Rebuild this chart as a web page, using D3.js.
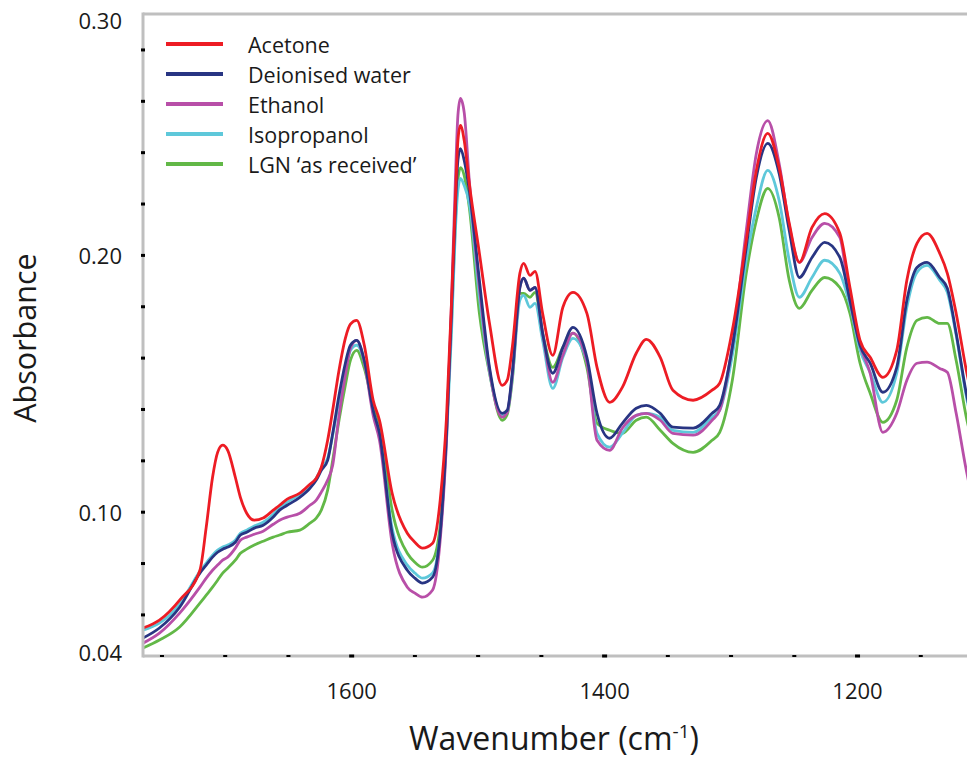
<!DOCTYPE html>
<html>
<head>
<meta charset="utf-8">
<script src="https://cdn.jsdelivr.net/npm/d3@7/dist/d3.min.js"></script>
<style>
  html, body { margin: 0; padding: 0; background: #fff; }
  svg { display: block; font-family: "Open Sans", "Noto Sans", sans-serif; }
</style>
</head>
<body>
<svg id="chart" width="967" height="761"></svg>
<script>
// FTIR absorbance spectra of LGN after solvent treatment
const wavenumbers = [
  1765, 1752, 1736, 1720, 1715, 1710, 1706, 1702, 1698, 1692,
  1688, 1683, 1677, 1670, 1662, 1657, 1651, 1641, 1633, 1628,
  1624, 1619, 1615, 1610, 1605, 1601, 1596, 1590, 1583, 1578,
  1568, 1556, 1550, 1544, 1536, 1530, 1525, 1521, 1518, 1516,
  1514, 1511, 1507, 1499, 1491, 1481, 1477, 1473, 1467, 1464,
  1459, 1455, 1449, 1441, 1433, 1425, 1414, 1406, 1396, 1386,
  1375, 1367, 1356, 1346, 1330, 1315, 1309, 1299, 1288, 1280,
  1271, 1262, 1254, 1246, 1236, 1226, 1214, 1206, 1198, 1190,
  1180, 1169, 1161, 1153, 1145, 1135, 1129, 1122, 1114, 1105
];

const acetone = [
  .0549, .0580, .0658, .0774, .0942, .1136, .1233, .1261, .1241, .1136,
  .1058, .0996, .0969, .0977, .1008, .1027, .1051, .1074, .1109, .1132,
  .1175, .1280, .1397, .1553, .1677, .1732, .1747, .1650, .1436, .1358,
  .1074, .0918, .0883, .0860, .0879, .1047, .1370, .1825, .2214, .2447,
  .2506, .2447, .2280, .2008, .1735, .1494, .1514, .1642, .1930, .1969,
  .1922, .1938, .1774, .1611, .1798, .1856, .1774, .1564, .1428, .1486,
  .1619, .1673, .1603, .1475, .1436, .1475, .1502, .1708, .2058, .2331,
  .2475, .2342, .2125, .1973, .2109, .2163, .2086, .1875, .1669, .1603,
  .1525, .1630, .1903, .2047, .2086, .2008, .1930, .1774, .1553, .1358
];

const deionisedWater = [
  .0510, .0549, .0630, .0763, .0794, .0825, .0844, .0856, .0864, .0883,
  .0911, .0922, .0938, .0949, .0981, .1008, .1027, .1058, .1093, .1125,
  .1163, .1202, .1307, .1455, .1580, .1650, .1669, .1591, .1397, .1307,
  .0918, .0774, .0743, .0724, .0747, .0918, .1307, .1786, .2175, .2370,
  .2416, .2370, .2253, .1903, .1564, .1385, .1397, .1541, .1875, .1911,
  .1864, .1875, .1697, .1541, .1642, .1720, .1603, .1385, .1288, .1346,
  .1405, .1416, .1385, .1331, .1327, .1385, .1416, .1642, .2031, .2304,
  .2436, .2319, .2097, .1914, .1992, .2051, .1992, .1825, .1650, .1580,
  .1467, .1564, .1825, .1953, .1973, .1914, .1872, .1697, .1463, .1280
];

const ethanol = [
  .0490, .0529, .0607, .0708, .0743, .0774, .0794, .0813, .0825, .0860,
  .0891, .0903, .0914, .0926, .0953, .0969, .0981, .0996, .1027, .1047,
  .1078, .1125, .1183, .1377, .1533, .1638, .1669, .1584, .1377, .1280,
  .0879, .0708, .0685, .0669, .0697, .0891, .1280, .1825, .2292, .2545,
  .2611, .2556, .2292, .1875, .1553, .1370, .1389, .1533, .1875, .1911,
  .1864, .1875, .1697, .1506, .1611, .1697, .1584, .1280, .1241, .1327,
  .1377, .1385, .1358, .1307, .1300, .1358, .1397, .1650, .2097, .2397,
  .2525, .2358, .2117, .1973, .2070, .2125, .2070, .1825, .1650, .1541,
  .1311, .1385, .1514, .1580, .1584, .1560, .1545, .1385, .1163, .0969
];

const isopropanol = [
  .0541, .0568, .0642, .0770, .0802, .0833, .0852, .0864, .0872, .0891,
  .0918, .0930, .0946, .0961, .0992, .1019, .1039, .1070, .1101, .1132,
  .1171, .1210, .1300, .1436, .1553, .1630, .1650, .1584, .1389, .1300,
  .0938, .0794, .0763, .0743, .0763, .0918, .1280, .1708, .2097, .2253,
  .2300, .2272, .2202, .1837, .1545, .1377, .1389, .1521, .1825, .1844,
  .1798, .1813, .1669, .1482, .1603, .1677, .1584, .1307, .1253, .1307,
  .1377, .1385, .1370, .1319, .1311, .1370, .1397, .1611, .1981, .2187,
  .2331, .2214, .1981, .1837, .1914, .1981, .1930, .1805, .1630, .1545,
  .1428, .1541, .1798, .1934, .1961, .1903, .1856, .1689, .1451, .1268
];

const lgnAsReceived = [
  .0471, .0502, .0553, .0646, .0677, .0708, .0735, .0763, .0782, .0813,
  .0840, .0856, .0872, .0887, .0903, .0911, .0922, .0930, .0957, .0977,
  .1008, .1086, .1202, .1358, .1494, .1591, .1630, .1560, .1416, .1346,
  .1008, .0840, .0805, .0786, .0813, .0949, .1319, .1747, .2136, .2292,
  .2342, .2311, .2187, .1774, .1541, .1358, .1381, .1514, .1852, .1852,
  .1837, .1856, .1697, .1564, .1642, .1697, .1564, .1346, .1319, .1307,
  .1358, .1370, .1319, .1268, .1233, .1280, .1311, .1514, .1930, .2136,
  .2261, .2148, .1903, .1794, .1864, .1914, .1875, .1774, .1580, .1463,
  .1350, .1436, .1642, .1747, .1759, .1735, .1735, .1591, .1370, .1202
];

const seriesNames = ["Acetone", "Deionised water", "Ethanol", "Isopropanol", "LGN \u2018as received\u2019"];
const seriesValues = [acetone, deionisedWater, ethanol, isopropanol, lgnAsReceived];
const seriesColors = ["#ed1c24", "#283583", "#b84fa8", "#5ec8da", "#62b847"];

// axis labelling
const yTickValues = [0.044, 0.10, 0.20, 0.294];
const yTickLabels = ["0.04", "0.10", "0.20", "0.30"];
const yMinorTicks = [0.06, 0.08, 0.10, 0.12, 0.14, 0.16, 0.18, 0.20, 0.22, 0.24, 0.26, 0.28];
const xTickValues = [1600, 1400, 1200];
const xMinorTicks = [1750, 1700, 1650, 1550, 1500, 1450, 1350, 1300, 1250, 1150];

const svg = d3.select("#chart");
const plotLeft = 143, plotTop = 14, plotBottom = 656, plotRight = 984;

const x = d3.scaleLinear().domain([1765, 1100]).range([plotLeft, plotRight]);
const y = d3.scaleLinear().domain([0.044, 0.294]).range([plotBottom, plotTop]);

// clip for the plot area
svg.append("defs").append("clipPath").attr("id", "plotClip")
  .append("rect").attr("x", plotLeft).attr("y", plotTop)
  .attr("width", plotRight - plotLeft).attr("height", plotBottom - plotTop);

// spectra (drawn back to front)
const line = d3.line()
  .x((d, i) => x(wavenumbers[i]))
  .y(d => y(d))
  .curve(d3.curveMonotoneX);

const drawOrder = [4, 3, 2, 1, 0];
svg.append("g").attr("clip-path", "url(#plotClip)")
  .selectAll("path")
  .data(drawOrder)
  .join("path")
  .attr("d", k => line(seriesValues[k]))
  .attr("fill", "none")
  .attr("stroke", k => seriesColors[k])
  .attr("stroke-width", 2.8)
  .attr("stroke-linejoin", "round");

// frame
const frame = svg.append("g").attr("stroke", "#bfbfbf").attr("stroke-width", 3).attr("fill", "none");
frame.append("line").attr("x1", plotLeft).attr("x2", plotLeft).attr("y1", plotTop - 1.5).attr("y2", plotBottom + 1.5);
frame.append("line").attr("x1", plotLeft).attr("x2", plotRight + 20).attr("y1", plotBottom).attr("y2", plotBottom);
frame.append("line").attr("x1", plotLeft).attr("x2", plotRight + 20).attr("y1", plotTop).attr("y2", plotTop);

// tick marks
svg.append("g").selectAll("rect")
  .data(yMinorTicks)
  .join("rect")
  .attr("x", plotLeft - 2).attr("y", d => y(d) - 1.5)
  .attr("width", 4).attr("height", 3)
  .attr("fill", "#000");

svg.append("g").selectAll("rect")
  .data(xMinorTicks)
  .join("rect")
  .attr("x", d => x(d) - 2).attr("y", plotBottom - 1)
  .attr("width", 4).attr("height", 2)
  .attr("fill", "#000");

svg.append("g").selectAll("rect")
  .data(xTickValues)
  .join("rect")
  .attr("x", d => x(d) - 2.5).attr("y", plotBottom - 1.5)
  .attr("width", 5).attr("height", 3)
  .attr("fill", "#000");

// tick labels
const yLabelNudge = [-4, 0, 0, 6];
svg.append("g").selectAll("text")
  .data(yTickValues)
  .join("text")
  .attr("x", 122)
  .attr("y", (d, i) => y(d) + yLabelNudge[i])
  .attr("text-anchor", "end")
  .attr("dominant-baseline", "central")
  .attr("font-size", 22)
  .attr("fill", "#1a1a1a")
  .text((d, i) => yTickLabels[i]);

svg.append("g").selectAll("text")
  .data(xTickValues)
  .join("text")
  .attr("x", d => x(d))
  .attr("y", 690)
  .attr("text-anchor", "middle")
  .attr("dominant-baseline", "central")
  .attr("font-size", 22)
  .attr("fill", "#1a1a1a")
  .text(d => d);

// axis titles
svg.append("text")
  .attr("transform", "translate(36,338) rotate(-90)")
  .attr("text-anchor", "middle")
  .attr("font-size", 30.5)
  .attr("fill", "#1a1a1a")
  .text("Absorbance");

const xTitle = svg.append("text")
  .attr("x", 554).attr("y", 750)
  .attr("text-anchor", "middle")
  .attr("font-size", 32)
  .attr("fill", "#1a1a1a");
xTitle.append("tspan").text("Wavenumber (cm");
xTitle.append("tspan").attr("dy", -12).attr("font-size", 19).text("-1");
xTitle.append("tspan").attr("dy", 12).text(")");

// legend
const legend = svg.append("g").selectAll("g")
  .data(seriesNames)
  .join("g")
  .attr("transform", (d, i) => `translate(0,${44 + i * 30})`);
legend.append("line")
  .attr("x1", 166).attr("x2", 223)
  .attr("stroke", (d, i) => seriesColors[i])
  .attr("stroke-width", 4);
legend.append("text")
  .attr("x", 248)
  .attr("y", 8.5)
  .attr("font-size", 21.5)
  .attr("fill", "#1a1a1a")
  .text(d => d);
</script>
</body>
</html>
